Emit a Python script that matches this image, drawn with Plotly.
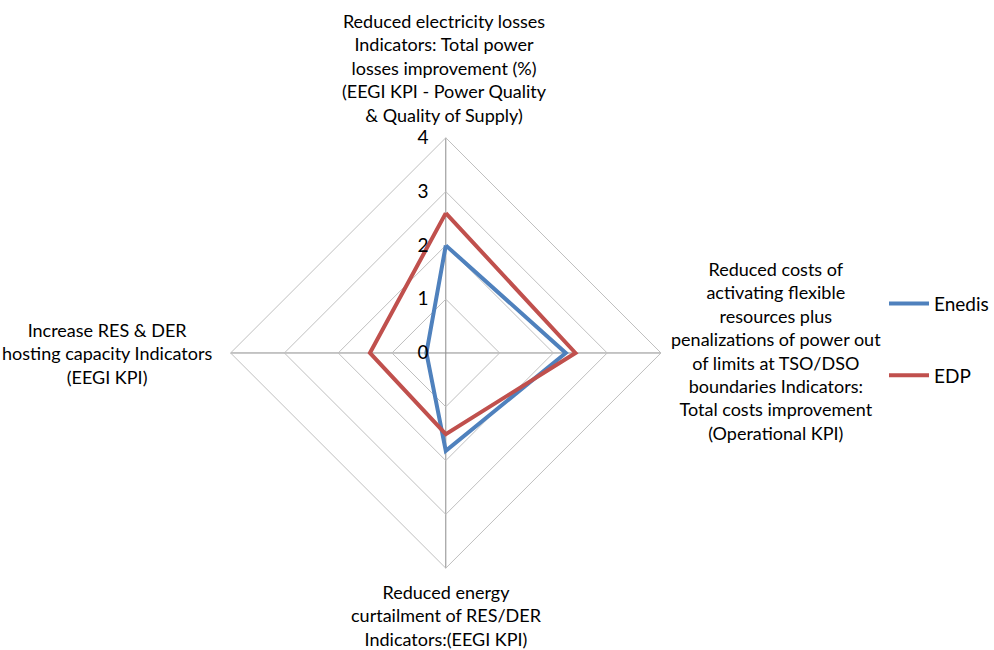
import plotly.graph_objects as go

categories = [
    "Reduced electricity losses<br>Indicators: Total power<br>losses improvement (%)<br>(EEGI KPI - Power Quality<br>& Quality of Supply)",
    "Reduced costs of<br>activating flexible<br>resources plus<br>penalizations of power out<br>of limits at TSO/DSO<br>boundaries Indicators:<br>Total costs improvement<br>(Operational KPI)",
    "Reduced energy<br>curtailment of RES/DER<br>Indicators:(EEGI KPI)",
    "Increase RES & DER<br>hosting capacity Indicators<br>(EEGI KPI)",
]
enedis = [2.0, 2.23, 1.82, 0.36]
edp = [2.6, 2.41, 1.51, 1.41]
radial_ticks = [0, 1, 2, 3, 4]

# label anchor points (paper coords) for each spoke: top, right, bottom, left
label_pos = [(0.4497, 0.896), (0.7857, 0.4595), (0.4517, 0.0538), (0.1087, 0.4554)]

fig = go.Figure()
for name, vals, color, grp in [("Enedis", enedis, "#4F81BD", "a"), ("EDP", edp, "#C0504D", "b")]:
    fig.add_trace(go.Scatterpolar(
        r=vals + vals[:1],
        theta=categories + categories[:1],
        mode="lines",
        name=name,
        legendgroup=grp,
        line=dict(color=color, width=4),
    ))

for text, (x, y) in zip(categories, label_pos):
    fig.add_annotation(
        text=text, x=x, y=y, xref="paper", yref="paper",
        xanchor="center", yanchor="middle", align="center",
        showarrow=False, font=dict(size=18, color="#000"),
    )

fig.update_layout(
    width=994, height=650,
    margin=dict(l=0, r=0, t=0, b=0),
    paper_bgcolor="white",
    font=dict(family="Lato, Open Sans, sans-serif", size=15, color="#000"),
    polar=dict(
        domain=dict(x=[0.2334, 0.6690], y=[0.1247, 0.7892]),
        bgcolor="white",
        gridshape="linear",
        angularaxis=dict(
            direction="clockwise", rotation=90,
            showline=True, linecolor="#BFBFBF", linewidth=1,
            gridcolor="#8C8C8C", gridwidth=1,
            ticks="", showticklabels=False,
        ),
        radialaxis=dict(
            range=[0, 4], tickvals=radial_ticks, angle=90, tickangle=90,
            side="counterclockwise",
            showline=False, gridcolor="#BFBFBF", gridwidth=1,
            ticks="outside", ticklen=10, tickcolor="rgba(0,0,0,0)",
            tickfont=dict(size=19),
        ),
    ),
    legend=dict(
        x=0.895, y=0.562, xanchor="left", yanchor="top",
        tracegroupgap=44, font=dict(size=19),
        itemwidth=40,
        bgcolor="rgba(0,0,0,0)",
    ),
)

fig.write_html("out.html")
